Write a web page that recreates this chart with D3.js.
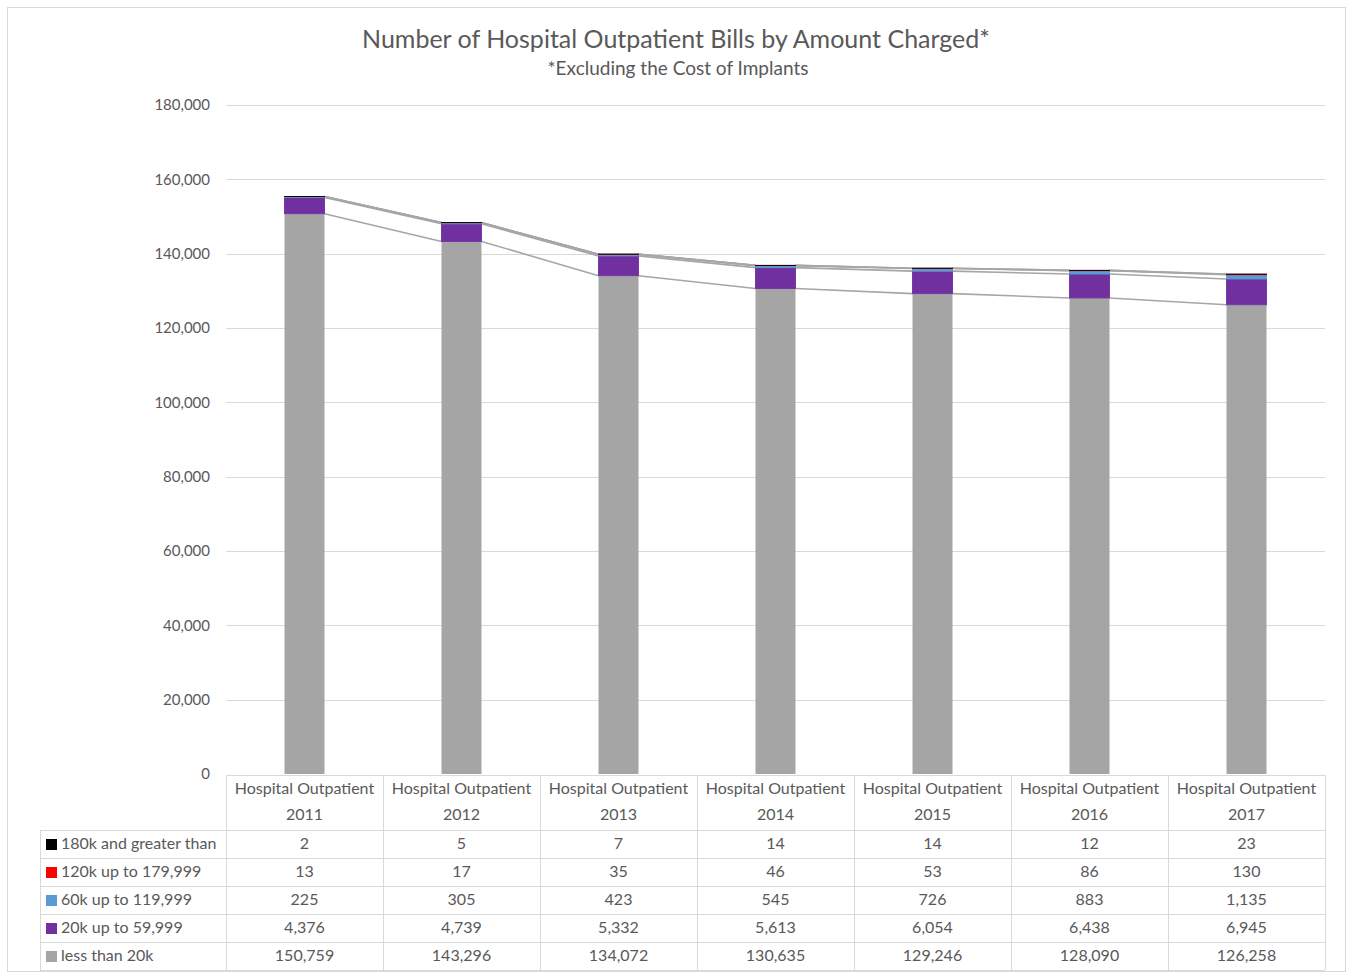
<!DOCTYPE html>
<html>
<head>
<meta charset="utf-8">
<script src="https://cdn.jsdelivr.net/npm/d3@7"></script>
<style>
  body { margin: 0; background: #fff; }
  text { font-family: Lato, "Open Sans", sans-serif; fill: #595959; }
</style>
</head>
<body>
<script>
// Data
var years = ["2011", "2012", "2013", "2014", "2015", "2016", "2017"];
var seriesNames = ["less than 20k", "20k up to 59,999", "60k up to 119,999", "120k up to 179,999", "180k and greater than"];
var seriesColors = ["#a5a5a5", "#7030a0", "#5b9bd5", "#ff0000", "#000000"];
var lessThan20k = [150759, 143296, 134072, 130635, 129246, 128090, 126258];
var k20to60 = [4376, 4739, 5332, 5613, 6054, 6438, 6945];
var k60to120 = [225, 305, 423, 545, 726, 883, 1135];
var k120to180 = [13, 17, 35, 46, 53, 86, 130];
var k180plus = [2, 5, 7, 14, 14, 12, 23];
var yTicks = [0, 20000, 40000, 60000, 80000, 100000, 120000, 140000, 160000, 180000];

var allSeries = [lessThan20k, k20to60, k60to120, k120to180, k180plus];

var W = 1348, H = 975;
var svg = d3.select("body").append("svg")
    .attr("width", W)
    .attr("height", H);

// chart border
svg.append("rect")
    .attr("x", 7.5).attr("y", 7.5)
    .attr("width", 1338).attr("height", 964)
    .attr("fill", "#fff")
    .attr("stroke", "#d9d9d9");

var plotLeft = 226, plotRight = 1325, plotTop = 105, plotBottom = 774;

var x = d3.scaleBand()
    .domain(years)
    .range([plotLeft, plotRight])
    .paddingInner(0)
    .paddingOuter(0);

var y = d3.scaleLinear()
    .domain([0, 180000])
    .range([plotBottom, plotTop]);

// Title
svg.append("text")
    .attr("x", 676).attr("y", 48)
    .attr("text-anchor", "middle")
    .style("font-size", "25px")
    .text("Number of Hospital Outpatient Bills by Amount Charged*");
svg.append("text")
    .attr("x", 678).attr("y", 75)
    .attr("text-anchor", "middle")
    .style("font-size", "19px")
    .text("*Excluding the Cost of Implants");

// Grid lines
svg.append("g").selectAll("line")
    .data(yTicks.filter(function(d) { return d > 0; }))
    .enter().append("line")
      .attr("x1", plotLeft).attr("x2", plotRight)
      .attr("y1", function(d) { return Math.round(y(d)) + 0.5; })
      .attr("y2", function(d) { return Math.round(y(d)) + 0.5; })
      .attr("stroke", "#d9d9d9")
      .attr("stroke-width", 1);

// Y axis
var yAxis = d3.axisLeft(y)
    .tickValues(yTicks)
    .tickSize(0)
    .tickPadding(16)
    .tickFormat(d3.format(","));
var yg = svg.append("g")
    .attr("transform", "translate(" + plotLeft + ",0)")
    .call(yAxis);
yg.select(".domain").remove();
yg.selectAll("text")
    .style("font-size", "15px")
    .style("font-family", "Lato, sans-serif")
    .attr("fill", "#595959");

// Stack
var rows = years.map(function(yr, i) {
  var r = { year: yr };
  seriesNames.forEach(function(s, j) { r[s] = allSeries[j][i]; });
  return r;
});
var stack = d3.stack().keys(seriesNames);
var stacked = stack(rows);

var barW = 40;

// Series lines (connect top of each segment between bars)
stacked.forEach(function(layer, j) {
  var segs = [];
  for (var i = 0; i < years.length - 1; i++) {
    segs.push({
      x1: x(years[i]) + x.bandwidth() / 2 + barW / 2,
      y1: y(layer[i][1]),
      x2: x(years[i + 1]) + x.bandwidth() / 2 - barW / 2,
      y2: y(layer[i + 1][1])
    });
  }
  svg.append("g").selectAll("line")
    .data(segs)
    .enter().append("line")
      .attr("x1", function(d) { return d.x1; })
      .attr("y1", function(d) { return d.y1; })
      .attr("x2", function(d) { return d.x2; })
      .attr("y2", function(d) { return d.y2; })
      .attr("stroke", "#a6a6a6")
      .attr("stroke-width", 1.6);
});

// Bars (thin same-colour outline so tiny segments stay visible, like Excel)
svg.append("g").selectAll("g")
    .data(stacked)
    .enter().append("g")
      .attr("fill", function(d, j) { return seriesColors[j]; })
      .attr("stroke", function(d, j) { return seriesColors[j]; })
      .attr("stroke-width", function(d, j) { return j === 0 ? 0 : 0.9; })
    .selectAll("rect")
    .data(function(d) { return d; })
    .enter().append("rect")
      .attr("x", function(d) { return x(d.data.year) + x.bandwidth() / 2 - barW / 2; })
      .attr("width", barW)
      .attr("y", function(d) { return y(d[1]); })
      .attr("height", function(d) { return y(d[0]) - y(d[1]); });

// Data table
var tblTop = 775, headH = 55, rowH = 28;
var legendLeft = 40;
var tableRows = seriesNames.slice().reverse();
var tableData = allSeries.slice().reverse();
var tableColors = seriesColors.slice().reverse();
var tblBottom = tblTop + headH + rowH * tableRows.length;
var grid = svg.append("g").attr("stroke", "#d9d9d9").attr("stroke-width", 1);

// column lines
x.domain().forEach(function(yr) {
  grid.append("line")
    .attr("x1", x(yr) + 0.5).attr("x2", x(yr) + 0.5)
    .attr("y1", tblTop).attr("y2", tblBottom);
});
grid.append("line")
    .attr("x1", plotRight + 0.5).attr("x2", plotRight + 0.5)
    .attr("y1", tblTop).attr("y2", tblBottom);
grid.append("line")
    .attr("x1", plotLeft).attr("x2", plotRight)
    .attr("y1", tblTop + 0.5).attr("y2", tblTop + 0.5);
grid.append("line")
    .attr("x1", legendLeft + 0.5).attr("x2", legendLeft + 0.5)
    .attr("y1", tblTop + headH).attr("y2", tblBottom);
tableRows.forEach(function(s, j) {
  var yy = tblTop + headH + j * rowH;
  grid.append("line")
    .attr("x1", legendLeft).attr("x2", plotRight)
    .attr("y1", yy + 0.5).attr("y2", yy + 0.5);
});
grid.append("line")
    .attr("x1", legendLeft).attr("x2", plotRight)
    .attr("y1", tblBottom + 0.5).attr("y2", tblBottom + 0.5);

// header text
years.forEach(function(yr) {
  var cx = x(yr) + x.bandwidth() / 2;
  svg.append("text")
    .attr("x", cx).attr("y", tblTop + 19)
    .attr("text-anchor", "middle")
    .style("font-size", "16px")
    .text("Hospital Outpatient");
  svg.append("text")
    .attr("x", cx).attr("y", tblTop + 45)
    .attr("text-anchor", "middle")
    .style("font-size", "16px")
    .text(yr);
});

// rows
var fmt = d3.format(",");
tableRows.forEach(function(s, j) {
  var yy = tblTop + headH + j * rowH;
  svg.append("rect")
    .attr("x", 46).attr("y", yy + 9)
    .attr("width", 11).attr("height", 11)
    .attr("fill", tableColors[j]);
  svg.append("text")
    .attr("x", 61).attr("y", yy + 19)
    .style("font-size", "16px")
    .text(s);
  tableData[j].forEach(function(v, i) {
    svg.append("text")
      .attr("x", x(years[i]) + x.bandwidth() / 2)
      .attr("y", yy + 19)
      .attr("text-anchor", "middle")
      .style("font-size", "16px")
      .text(fmt(v));
  });
});
</script>
</body>
</html>
